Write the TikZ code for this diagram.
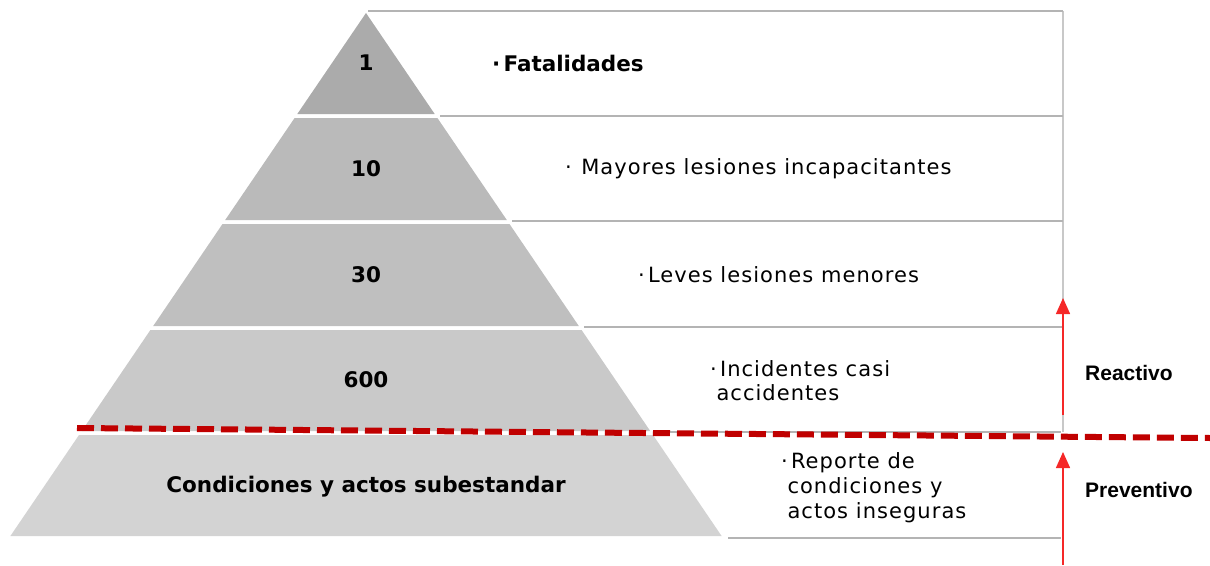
\documentclass[tikz,border=0pt]{standalone}
\usepackage{fontspec}
\setmainfont{DejaVu Sans}
\newfontfamily\arialfont{Liberation Sans}
\newfontfamily\descfont[LetterSpace=5]{DejaVu Sans}
\usetikzlibrary{arrows.meta}
\definecolor{gA}{RGB}{171,171,171}
\definecolor{gB}{RGB}{186,186,186}
\definecolor{gC}{RGB}{191,191,191}
\definecolor{gD}{RGB}{201,201,201}
\definecolor{gE}{RGB}{211,211,211}
\definecolor{lineg}{RGB}{180,180,180}
\definecolor{vlineg}{RGB}{200,200,200}
\definecolor{dashred}{RGB}{192,0,0}
\definecolor{arrred}{RGB}{245,40,40}
\newcommand{\bdot}{·\hspace{0.15em}}
\tikzset{
  layertxt/.style={font=\fontsize{21.5}{25}\selectfont\bfseries, inner sep=0pt},
  desc/.style={font=\descfont\fontsize{21}{25}\selectfont, anchor=west, align=left, inner sep=0pt},
  sidetxt/.style={font=\arialfont\fontsize{21}{24}\selectfont\bfseries, anchor=west, inner sep=0pt},
  sepline/.style={draw=lineg, line width=2pt},
  redarrow/.style={draw=arrred, line width=1.5pt, -{Triangle[width=14pt,length=16pt]}},
  reddash/.style={draw=dashred, line width=6pt, dash pattern=on 17pt off 7pt}
}
\begin{document}
\begin{tikzpicture}[x=1pt,y=-1pt]
\useasboundingbox (0,0) rectangle (1210,565);
% pyramid layers
\fill[gA] (366,13) -- (434.7,114) -- (297.3,114) -- cycle;
\fill[gB] (294.6,118) -- (437.4,118) -- (506.8,220) -- (225.2,220) -- cycle;
\fill[gC] (222.5,224) -- (509.5,224) -- (578.8,326) -- (153.2,326) -- cycle;
\fill[gD] (150.4,330) -- (581.6,330) -- (650.2,431) -- (81.8,431) -- cycle;
\fill[gE] (79,435) -- (653,435) -- (721.6,536) -- (10.4,536) -- cycle;
% right-hand grid
\coordinate (t0) at (368,11);   \coordinate (r0) at (1063,11);
\coordinate (t1) at (440,116);  \coordinate (r1) at (1063,116);
\coordinate (t2) at (512,221);  \coordinate (r2) at (1063,221);
\coordinate (t3) at (584,327);  \coordinate (r3) at (1063,327);
\coordinate (t4) at (656,432);  \coordinate (r4) at (1061,432);
\coordinate (t5) at (728,538);  \coordinate (r5) at (1061,538);
\draw[draw=vlineg, line width=2pt] (r0) -- (1063,432);
\foreach \i in {0,...,5} {\draw[sepline] (t\i) -- (r\i);}
% layer labels
\node[layertxt] (n1) at (366,63) {1};
\node[layertxt] (n2) at (366,169) {10};
\node[layertxt] (n3) at (366,275) {30};
\node[layertxt] (n4) at (366,380) {600};
\node[layertxt] (n5) at (366,487) {Condiciones y actos subestandar};
% descriptions
\node[desc, font=\fontsize{21.5}{25}\selectfont\bfseries] (d1) at (492,63) {\bdot Fatalidades};
\node[desc] (d2) at (565,169) {·\hspace{0.45em}Mayores lesiones incapacitantes};
\node[desc] (d3) at (638,275) {\bdot Leves lesiones menores};
\node[desc] (d4) at (710,381) {\bdot Incidentes casi\\[-1pt] \hspace{0.3em}accidentes};
\node[desc] (d5) at (781,488) {\bdot Reporte de\\ \hspace{0.3em}condiciones y\\ \hspace{0.3em}actos inseguras};
% dashed boundary
\coordinate (dl) at (77,428);
\coordinate (dr) at (1210,438);
\draw[reddash] (dl) -- (dr);
% arrows
\coordinate (a1s) at (1063,415);
\coordinate (a1e) at (1063,298);
\coordinate (a2s) at (1063,565);
\coordinate (a2e) at (1063,452);
\draw[redarrow] (a1s) -- (a1e);
\draw[redarrow] (a2s) -- (a2e);
\node[sidetxt] (reac) at (1085,373) {Reactivo};
\node[sidetxt] (prev) at (1085,490) {Preventivo};
\end{tikzpicture}
\end{document}
